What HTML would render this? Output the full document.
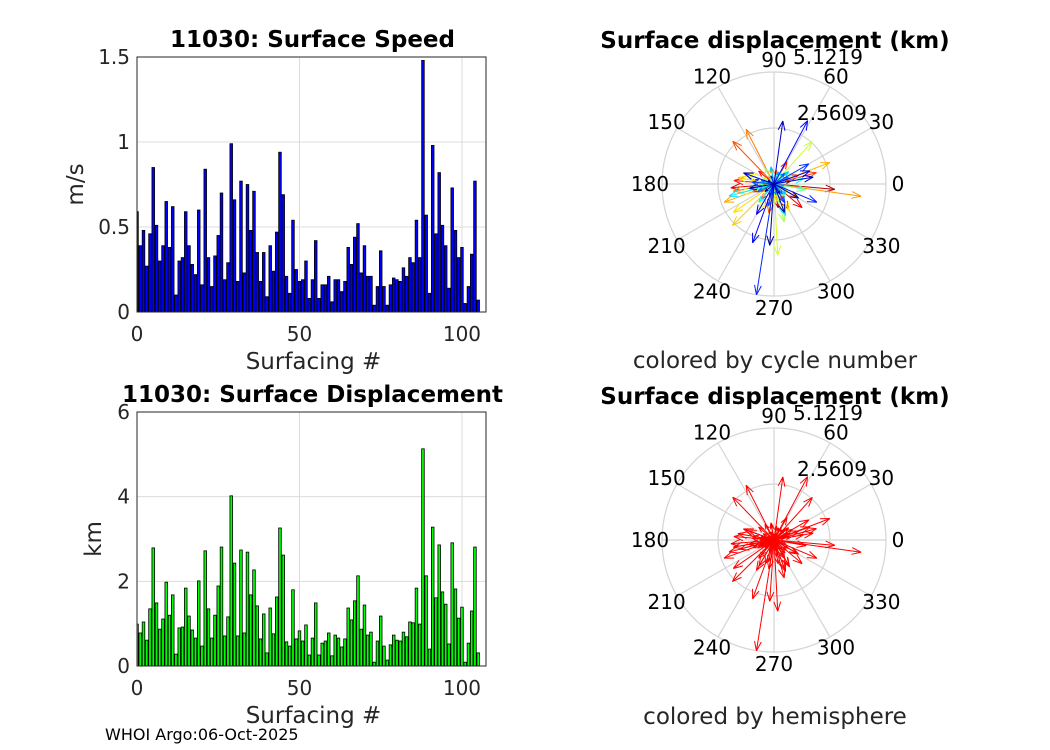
<!DOCTYPE html>
<html><head><meta charset="utf-8"><style>
body{margin:0;background:#fff;}
svg{display:block;font-family:"DejaVu Sans","Liberation Sans",sans-serif;}
</style></head><body>
<svg id="fig" width="1050" height="750" viewBox="0 0 1050 750"></svg>
<script>
const speed=[0.59,0.39,0.48,0.27,0.46,0.85,0.51,0.30,0.39,0.65,0.38,0.62,0.10,0.30,0.32,0.59,0.39,0.28,0.22,0.60,0.16,0.84,0.32,0.15,0.33,0.45,0.70,0.19,0.29,0.99,0.66,0.18,0.77,0.23,0.75,0.48,0.71,0.35,0.18,0.35,0.09,0.39,0.24,0.47,0.94,0.69,0.21,0.11,0.54,0.25,0.18,0.19,0.30,0.08,0.19,0.42,0.08,0.16,0.16,0.21,0.06,0.19,0.19,0.12,0.18,0.38,0.28,0.44,0.52,0.23,0.39,0.21,0.21,0.04,0.15,0.36,0.15,0.04,0.16,0.20,0.19,0.18,0.26,0.21,0.32,0.29,0.54,0.32,1.48,0.57,0.11,0.98,0.46,0.82,0.51,0.39,0.14,0.73,0.48,0.32,0.38,0.05,0.15,0.34,0.77,0.07];
const dispKm=[0.99,0.78,1.04,0.61,1.35,2.79,1.49,0.87,1.11,1.98,1.20,1.68,0.28,0.90,0.92,1.84,1.18,0.85,0.66,2.01,0.47,2.72,1.35,0.66,1.20,1.89,2.81,0.71,1.16,4.02,2.43,0.71,2.74,0.78,2.69,1.68,2.27,1.42,0.64,1.23,0.31,1.37,0.76,1.63,3.26,2.62,0.57,0.47,1.80,0.64,0.83,0.59,0.97,0.26,0.66,1.49,0.26,0.54,0.59,0.78,0.24,0.73,0.66,0.45,0.64,1.37,1.09,1.54,2.13,0.87,1.44,0.73,0.80,0.09,0.59,1.18,0.47,0.14,0.50,0.73,0.61,0.59,0.80,0.69,1.04,1.02,1.84,0.99,5.13,2.13,0.40,3.28,1.61,2.86,1.75,1.46,0.52,2.91,1.82,1.13,1.39,0.09,0.54,1.30,2.81,0.31];
const angleDeg=[170,10,200,250,300,355,160,40,280,185,20,320,90,230,140,175,60,300,210,15,120,134,260,80,330,190,117,45,250,352,200,100,21,280,225,170,215,300,60,160,75,240,330,195,273,48,150,10,285,200,120,340,30,260,180,350,90,220,20,310,140,200,60,250,170,10,230,290,195,40,160,320,100,210,70,190,350,130,280,25,165,310,205,45,255,175,30,300,261,337,110,62,240,250,20,160,300,82,10,190,290,70,220,330,266,150];
const xTicks=[0,50,100];
const speedTicks=[0,0.5,1,1.5];
const dispTicks=[0,2,4,6];
const polarAngles=[0,30,60,90,120,150,180,210,240,270,300,330];
const ringVals=[2.5609,5.1219];

const NS="http://www.w3.org/2000/svg";
const svg=document.getElementById('fig');
function mk(tag,attrs,parent){const e=document.createElementNS(NS,tag);for(const k in attrs)e.setAttribute(k,attrs[k]);(parent||svg).appendChild(e);return e;}
function txt(x,y,s,size,anchor,weight,fill,parent){const t=mk('text',{x:x,y:y,'font-size':size,'text-anchor':anchor||'middle','font-weight':weight||'normal',fill:fill||'#262626'},parent);t.textContent=s;return t;}

function barChart(name,top,bottom,vals,ticks,ymax,fill,title,ylabel,ylabX){
  const L=137,R=486,xmax=107.4;
  const g=mk('g',{});
  
  
  const xs=v=>L+v*(R-L)/xmax, ys=v=>bottom-v*(bottom-top)/ymax;
  mk('rect',{x:L,y:top,width:R-L,height:bottom-top,fill:'#fff'},g);
  const cid='clip'+name;
  const cp=mk('clipPath',{id:cid},g);mk('rect',{x:L,y:top,width:R-L,height:bottom-top},cp);
  xTicks.forEach(t=>{if(t>0){const l=mk('line',{x1:xs(t),x2:xs(t),y1:top,y2:bottom,stroke:'#dcdcdc','stroke-width':1},g);}});
  ticks.forEach(t=>{if(t>0&&t<ymax){const l=mk('line',{x1:L,x2:R,y1:ys(t),y2:ys(t),stroke:'#dcdcdc','stroke-width':1},g);}});
  const bg=mk('g',{'clip-path':'url(#'+cid+')'},g);
  vals.forEach((v,i)=>{const w=2.6;const r=mk('rect',{x:xs(i)-w/2,y:ys(v),width:w,height:bottom-ys(v),fill:fill,stroke:'#000','stroke-width':0.8},bg);
    
    });
  mk('rect',{x:L,y:top,width:R-L,height:bottom-top,fill:'none',stroke:'#262626','stroke-width':1},g);
  xTicks.forEach(t=>{const e=txt(xs(t),bottom+29,String(t),20,'middle','normal','#262626',g);});
  ticks.forEach(t=>{const e=txt(L-7,ys(t)+7,String(t),20,'end','normal','#262626',g);});
  const tt=txt((L+R)/2+1,top-10,title,23,'middle','bold','#000',g);
  const xl=txt((L+R)/2+2,bottom+57,'Surfacing #',23,'middle','normal','#262626',g);
  const yl=txt(0,0,ylabel,23,'middle','normal','#262626',g);yl.setAttribute('transform','translate('+ylabX+','+((top+bottom)/2)+') rotate(-90)');
}
barChart('speed-chart',57,312,speed,speedTicks,1.5,'#0000ff','11030: Surface Speed','m/s',83);
barChart('displacement-chart',412,666,dispKm,dispTicks,6,'#00ff00','11030: Surface Displacement','km',101);

function jet(t){const c=x=>Math.max(0,Math.min(1,x));const r=c(1.5-Math.abs(4*t-3)),gg=c(1.5-Math.abs(4*t-2)),b=c(1.5-Math.abs(4*t-1));return 'rgb('+Math.round(r*255)+','+Math.round(gg*255)+','+Math.round(b*255)+')';}
function polar(name,cx,cy,title,caption,colorFn){
  const R=112,rmax=5.1219;
  const g=mk('g',{});
  
  
  ringVals.forEach(v=>{const c=mk('circle',{cx:cx,cy:cy,r:v/rmax*R,fill:'none',stroke:'#d4d4d4','stroke-width':1.2},g);});
  polarAngles.forEach(a=>{const rad=a*Math.PI/180;
    const l=mk('line',{x1:cx,y1:cy,x2:cx+R*Math.cos(rad),y2:cy-R*Math.sin(rad),stroke:'#d4d4d4','stroke-width':1.2},g);
    const e=txt(cx+124*Math.cos(rad),cy-124*Math.sin(rad)+7,String(a),20,'middle','normal','#000',g);});
  const r1=txt(cx+58,cy-64,'2.5609',20,'middle','normal','#000',g);
  const r2=txt(cx+54,cy-120,'5.1219',20,'middle','normal','#000',g);
  dispKm.forEach((d,i)=>{const a=angleDeg[i]*Math.PI/180;const L=d/rmax*R;
    const x2=cx+L*Math.cos(a),y2=cy-L*Math.sin(a);const col=colorFn(i);
    const ag=mk('g',{stroke:col,'stroke-width':1,fill:'none'},g);
    
    
    mk('line',{x1:cx,y1:cy,x2:x2,y2:y2},ag);
    const h=Math.min(10,L*0.3);
    [a+Math.PI-0.35,a+Math.PI+0.35].forEach(b=>mk('line',{x1:x2,y1:y2,x2:x2+h*Math.cos(b),y2:y2-h*Math.sin(b)},ag));
  });
  const tt=txt(cx+1,cy-136,title,23,'middle','bold','#000',g);
  const cp=txt(cx+1,cy+184,caption,23,'middle','normal','#262626',g);
}
polar('polar-cycle',774,184,'Surface displacement (km)','colored by cycle number',i=>jet(1-i/(dispKm.length-1)));
polar('polar-hemisphere',774,540,'Surface displacement (km)','colored by hemisphere',i=>'#ff0000');
const f=txt(105,740,'WHOI Argo:06-Oct-2025',16,'start','normal','#000');


</script>
</body></html>
